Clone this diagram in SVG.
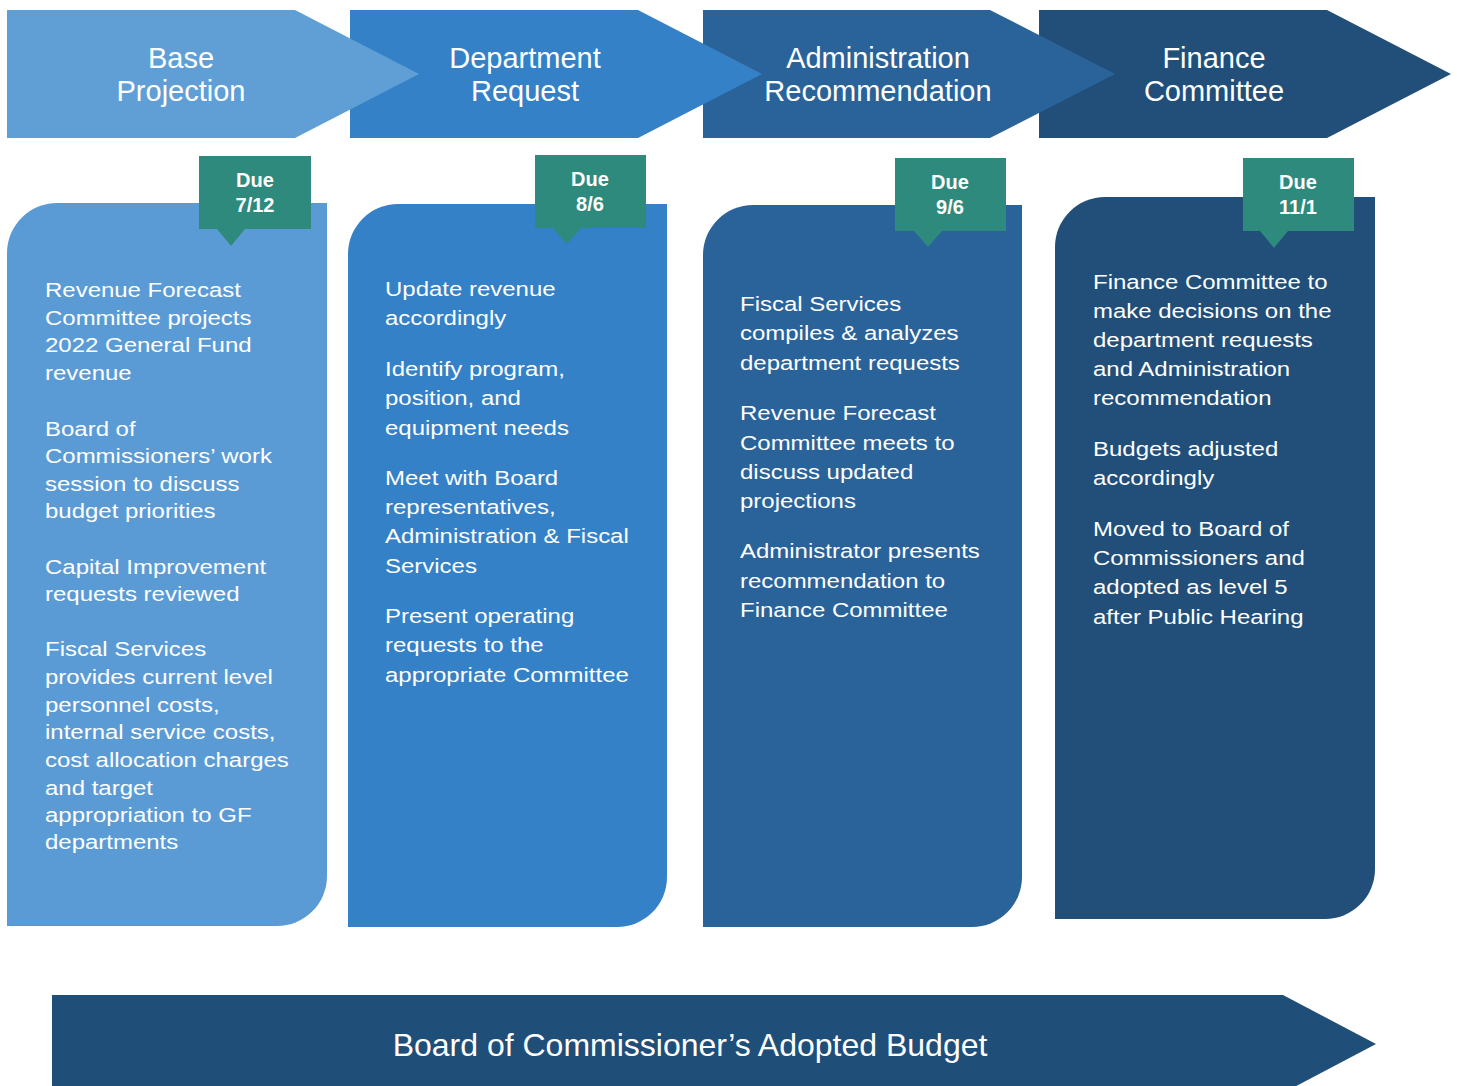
<svg xmlns="http://www.w3.org/2000/svg" width="1457" height="1086" viewBox="0 0 1457 1086">
<style>
.title{font-family:"Liberation Sans",Arial,sans-serif;font-size:29px;fill:#fff;text-anchor:middle}
.body{font-family:"Liberation Sans",Arial,sans-serif;font-size:20.5px;fill:#fff}
.due{font-family:"Liberation Sans",Arial,sans-serif;font-size:20px;font-weight:bold;fill:#fff;text-anchor:middle}
.badge{fill:#2E8A7D}
.big{font-family:"Liberation Sans",Arial,sans-serif;font-size:32px;fill:#fff;text-anchor:middle}
</style>
<rect width="1457" height="1086" fill="#fff"/>
<g id="connectors"/>
<!-- chevrons, drawn right to left so each tip overlaps the next -->
<g id="stage4">
<path d="M1039 10 H1327 L1451 74 L1327 138 H1039 Z" fill="#214F79"/>
<text class="title" x="1214" y="68">Finance</text>
<text class="title" x="1214" y="101">Committee</text>
</g>
<g id="stage3">
<path d="M703 10 H990 L1115 74 L990 138 H703 Z" fill="#2A6399"/>
<text class="title" x="878" y="68">Administration</text>
<text class="title" x="878" y="101">Recommendation</text>
</g>
<g id="stage2">
<path d="M350 10 H638 L762 74 L638 138 H350 Z" fill="#3481C8"/>
<text class="title" x="525" y="68">Department</text>
<text class="title" x="525" y="101">Request</text>
</g>
<g id="stage1">
<path d="M7 10 H295 L419 74 L295 138 H7 Z" fill="#5F9FD5"/>
<text class="title" x="181" y="68">Base</text>
<text class="title" x="181" y="101">Projection</text>
</g>
<!-- cards -->
<g id="card1">
<path d="M7 926 V253 A50 50 0 0 1 57 203 H327 V876 A50 50 0 0 1 277 926 Z" fill="#5B9BD5"/>
<g transform="translate(45 0) scale(1.17 1)">
<text class="body" x="0" y="297">Revenue Forecast</text>
<text class="body" x="0" y="325">Committee projects</text>
<text class="body" x="0" y="352">2022 General Fund</text>
<text class="body" x="0" y="380">revenue</text>
<text class="body" x="0" y="436">Board of</text>
<text class="body" x="0" y="463">Commissioners’ work</text>
<text class="body" x="0" y="491">session to discuss</text>
<text class="body" x="0" y="518">budget priorities</text>
<text class="body" x="0" y="574">Capital Improvement</text>
<text class="body" x="0" y="601">requests reviewed</text>
<text class="body" x="0" y="656">Fiscal Services</text>
<text class="body" x="0" y="684">provides current level</text>
<text class="body" x="0" y="712">personnel costs,</text>
<text class="body" x="0" y="739">internal service costs,</text>
<text class="body" x="0" y="767">cost allocation charges</text>
<text class="body" x="0" y="795">and target</text>
<text class="body" x="0" y="822">appropriation to GF</text>
<text class="body" x="0" y="849">departments</text>
</g>
</g>
<g id="card2">
<path d="M348 927 V254 A50 50 0 0 1 398 204 H667 V877 A50 50 0 0 1 617 927 Z" fill="#3481C8"/>
<g transform="translate(385 0) scale(1.17 1)">
<text class="body" x="0" y="296">Update revenue</text>
<text class="body" x="0" y="325">accordingly</text>
<text class="body" x="0" y="376">Identify program,</text>
<text class="body" x="0" y="405">position, and</text>
<text class="body" x="0" y="435">equipment needs</text>
<text class="body" x="0" y="485">Meet with Board</text>
<text class="body" x="0" y="514">representatives,</text>
<text class="body" x="0" y="543">Administration &amp; Fiscal</text>
<text class="body" x="0" y="573">Services</text>
<text class="body" x="0" y="623">Present operating</text>
<text class="body" x="0" y="652">requests to the</text>
<text class="body" x="0" y="682">appropriate Committee</text>
</g>
</g>
<g id="card3">
<path d="M703 927 V255 A50 50 0 0 1 753 205 H1022 V877 A50 50 0 0 1 972 927 Z" fill="#2A6399"/>
<g transform="translate(740 0) scale(1.17 1)">
<text class="body" x="0" y="311">Fiscal Services</text>
<text class="body" x="0" y="340">compiles &amp; analyzes</text>
<text class="body" x="0" y="370">department requests</text>
<text class="body" x="0" y="420">Revenue Forecast</text>
<text class="body" x="0" y="450">Committee meets to</text>
<text class="body" x="0" y="479">discuss updated</text>
<text class="body" x="0" y="508">projections</text>
<text class="body" x="0" y="558">Administrator presents</text>
<text class="body" x="0" y="588">recommendation to</text>
<text class="body" x="0" y="617">Finance Committee</text>
</g>
</g>
<g id="card4">
<path d="M1055 919 V247 A50 50 0 0 1 1105 197 H1375 V869 A50 50 0 0 1 1325 919 Z" fill="#214F79"/>
<g transform="translate(1093 0) scale(1.17 1)">
<text class="body" x="0" y="289">Finance Committee to</text>
<text class="body" x="0" y="318">make decisions on the</text>
<text class="body" x="0" y="347">department requests</text>
<text class="body" x="0" y="376">and Administration</text>
<text class="body" x="0" y="405">recommendation</text>
<text class="body" x="0" y="456">Budgets adjusted</text>
<text class="body" x="0" y="485">accordingly</text>
<text class="body" x="0" y="536">Moved to Board of</text>
<text class="body" x="0" y="565">Commissioners and</text>
<text class="body" x="0" y="594">adopted as level 5</text>
<text class="body" x="0" y="624">after Public Hearing</text>
</g>
</g>
<!-- due badges -->
<g id="due1">
<path class="badge" d="M199 156 H311 V229 H245 L231 246 L217 229 H199 Z"/>
<text class="due" x="255" y="187">Due</text>
<text class="due" x="255" y="212">7/12</text>
</g>
<g id="due2">
<path class="badge" d="M535 155 H646 V228 H581 L567 244 L553 228 H535 Z"/>
<text class="due" x="590" y="186">Due</text>
<text class="due" x="590" y="211">8/6</text>
</g>
<g id="due3">
<path class="badge" d="M895 158 H1006 V231 H942 L928 247 L914 231 H895 Z"/>
<text class="due" x="950" y="189">Due</text>
<text class="due" x="950" y="214">9/6</text>
</g>
<g id="due4">
<path class="badge" d="M1243 158 H1354 V231 H1288 L1274 248 L1260 231 H1243 Z"/>
<text class="due" x="1298" y="189">Due</text>
<text class="due" x="1298" y="214">11/1</text>
</g>
<!-- bottom arrow -->
<g id="adopted">
<path d="M52 995 H1283 L1376 1044 L1283 1093 H52 Z" fill="#1F4E79"/>
<text class="big" x="690" y="1056">Board of Commissioner’s Adopted Budget</text>
</g>
</svg>
